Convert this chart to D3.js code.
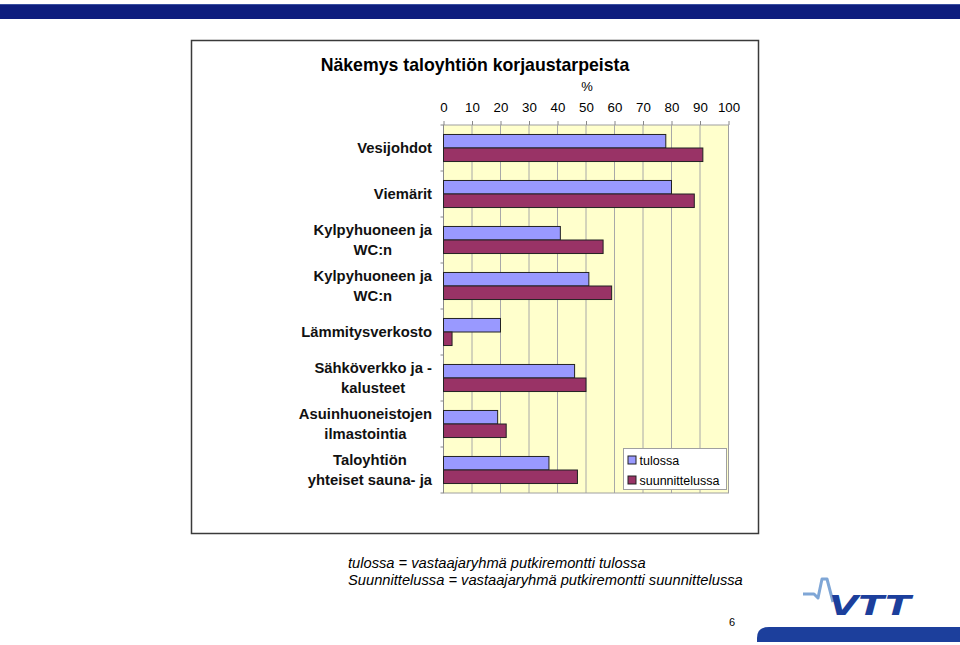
<!DOCTYPE html>
<html>
<head>
<meta charset="utf-8">
<script src="https://cdn.jsdelivr.net/npm/d3@7"></script>
<style>
  body { margin: 0; background: #fff; }
  svg { display: block; font-family: "Liberation Sans", Arial, sans-serif; }
</style>
</head>
<body>
<svg id="chart" width="960" height="645"></svg>
<script>
// chart data
const categories = [
  ["Vesijohdot"],
  ["Viemärit"],
  ["Kylpyhuoneen ja", "WC:n"],
  ["Kylpyhuoneen ja", "WC:n"],
  ["Lämmitysverkosto"],
  ["Sähköverkko ja -", "kalusteet"],
  ["Asuinhuoneistojen", "ilmastointia"],
  ["Taloyhtiön", "yhteiset sauna- ja"]
];
const seriesNames = ["tulossa", "suunnittelussa"];
const tulossa = [78, 80, 41, 51, 20, 46, 19, 37];
const suunnittelussa = [91, 88, 56, 59, 3, 50, 22, 47];
const xTicks = [0, 10, 20, 30, 40, 50, 60, 70, 80, 90, 100];
const colors = ["#9999ff", "#993366"];

const svg = d3.select("#chart");

// top blue band
svg.append("rect").attr("x", 0).attr("y", 4).attr("width", 960).attr("height", 15).attr("fill", "#0e1e7e");
svg.append("line").attr("x1", 0).attr("x2", 960).attr("y1", 4.5).attr("y2", 4.5).attr("stroke", "#3a4fa0");

// chart frame
svg.append("rect")
  .attr("x", 191.5).attr("y", 40.5).attr("width", 567).attr("height", 493)
  .attr("fill", "#fff").attr("stroke", "#3a3a3a").attr("stroke-width", 1.5);

svg.append("text")
  .attr("x", 475).attr("y", 71)
  .attr("text-anchor", "middle")
  .attr("font-size", 17.7).attr("font-weight", "bold")
  .text("Näkemys taloyhtiön korjaustarpeista");

svg.append("text")
  .attr("x", 587).attr("y", 91)
  .attr("text-anchor", "middle")
  .attr("font-size", 13)
  .text("%");

const x = d3.scaleLinear().domain([0, 100]).range([443.5, 728.5]);
const y = d3.scaleBand().domain(d3.range(categories.length)).range([125, 493]);
const inner = d3.scaleBand().domain(seriesNames).range([0, y.bandwidth()]).paddingOuter(0.7);

// plot background
svg.append("rect")
  .attr("x", x(0)).attr("y", y.range()[0])
  .attr("width", x(100) - x(0)).attr("height", y.range()[1] - y.range()[0])
  .attr("fill", "#ffffcc");

// gridlines
svg.append("g")
  .selectAll("line")
  .data(xTicks.slice(1, -1))
  .join("line")
  .attr("x1", d => x(d)).attr("x2", d => x(d))
  .attr("y1", y.range()[0]).attr("y2", y.range()[1])
  .attr("stroke", "#a8a8a8").attr("stroke-width", 1);

svg.append("rect")
  .attr("x", x(0)).attr("y", y.range()[0])
  .attr("width", x(100) - x(0)).attr("height", y.range()[1] - y.range()[0])
  .attr("fill", "none").attr("stroke", "#a0a0a0");

// top axis
const xAxis = svg.append("g")
  .attr("transform", `translate(0,${y.range()[0]})`)
  .call(d3.axisTop(x).tickValues(xTicks).tickSize(4).tickPadding(9));
xAxis.select(".domain").remove();
xAxis.selectAll("line").attr("stroke", "#888");
xAxis.selectAll("text").attr("font-size", 13.3).attr("font-family", "Liberation Sans, Arial, sans-serif").attr("fill", "#000");

// left axis line and ticks
svg.append("line")
  .attr("x1", x(0)).attr("x2", x(0))
  .attr("y1", y.range()[0]).attr("y2", y.range()[1])
  .attr("stroke", "#888");
svg.append("g")
  .selectAll("line")
  .data(d3.range(categories.length + 1))
  .join("line")
  .attr("x1", x(0) - 3).attr("x2", x(0))
  .attr("y1", d => y.range()[0] + d * y.step())
  .attr("y2", d => y.range()[0] + d * y.step())
  .attr("stroke", "#888");

// bars
const seriesData = [tulossa, suunnittelussa];
seriesNames.forEach((name, si) => {
  svg.append("g")
    .selectAll("rect")
    .data(seriesData[si])
    .join("rect")
    .attr("x", x(0))
    .attr("y", (d, i) => y(i) + inner(name))
    .attr("width", d => x(d) - x(0))
    .attr("height", inner.bandwidth())
    .attr("fill", colors[si])
    .attr("stroke", "#222")
    .attr("stroke-width", 1);
});

// category labels
const labels = svg.append("g")
  .selectAll("text")
  .data(categories)
  .join("text")
  .attr("x", 432)
  .attr("y", (d, i) => y(i) + y.bandwidth() / 2)
  .attr("text-anchor", "end")
  .attr("font-size", 14.8).attr("font-weight", "bold")
  .attr("fill", "#111");
labels.each(function (d) {
  const t = d3.select(this);
  const n = d.length;
  d.forEach((line, k) => {
    t.append("tspan")
      .attr("x", 432)
      .attr("dy", k === 0 ? (5 - (n - 1) * 10) : 20)
      .attr("text-anchor", n > 1 ? "middle" : "end")
      .text(line);
  });
});
// multi-line labels are centred; keep the widest line's right edge at 432
labels.each(function (d) {
  if (d.length < 2) return;
  const t = d3.select(this);
  let w = 0;
  t.selectAll("tspan").each(function () { w = Math.max(w, this.getComputedTextLength()); });
  t.selectAll("tspan").attr("x", 432 - w / 2);
});

// legend
const legend = svg.append("g").attr("transform", "translate(623.5,448.5)");
legend.append("rect").attr("width", 103).attr("height", 41).attr("fill", "#fff").attr("stroke", "#a0a0a0");
seriesNames.forEach((name, i) => {
  legend.append("rect")
    .attr("x", 4.5).attr("y", 7.5 + i * 20)
    .attr("width", 8).attr("height", 8)
    .attr("fill", colors[i]).attr("stroke", "#222");
  legend.append("text")
    .attr("x", 16).attr("y", 16 + i * 20)
    .attr("font-size", 12.5)
    .text(name);
});

// footnotes
const notes = [
  "tulossa = vastaajaryhmä putkiremontti tulossa",
  "Suunnittelussa = vastaajaryhmä putkiremontti suunnittelussa"
];
svg.append("g")
  .selectAll("text")
  .data(notes)
  .join("text")
  .attr("x", 348)
  .attr("y", (d, i) => 568 + i * 17)
  .attr("font-size", 14.7).attr("font-style", "italic")
  .text(d => d);

// page number
svg.append("text").attr("x", 729).attr("y", 626).attr("font-size", 11).text("6");

// VTT logo
svg.append("path")
  .attr("d", "M803,594 L814,594 L818,598 L822,579 L827,579 L833,602")
  .attr("fill", "none").attr("stroke", "#7fa6d6").attr("stroke-width", 3).attr("stroke-linejoin", "round");
svg.append("text")
  .attr("x", 829).attr("y", 615)
  .attr("font-size", 27).attr("font-weight", "bold").attr("font-style", "italic")
  .attr("font-family", "DejaVu Sans, sans-serif")
  .attr("textLength", 82).attr("lengthAdjust", "spacingAndGlyphs")
  .attr("fill", "#1c3f9c")
  .text("VTT");
svg.append("path")
  .attr("d", "M757,642 L757,638 Q757,627 769,627 L960,627 L960,642 Z")
  .attr("fill", "#1c3f9c");
</script>
</body>
</html>
